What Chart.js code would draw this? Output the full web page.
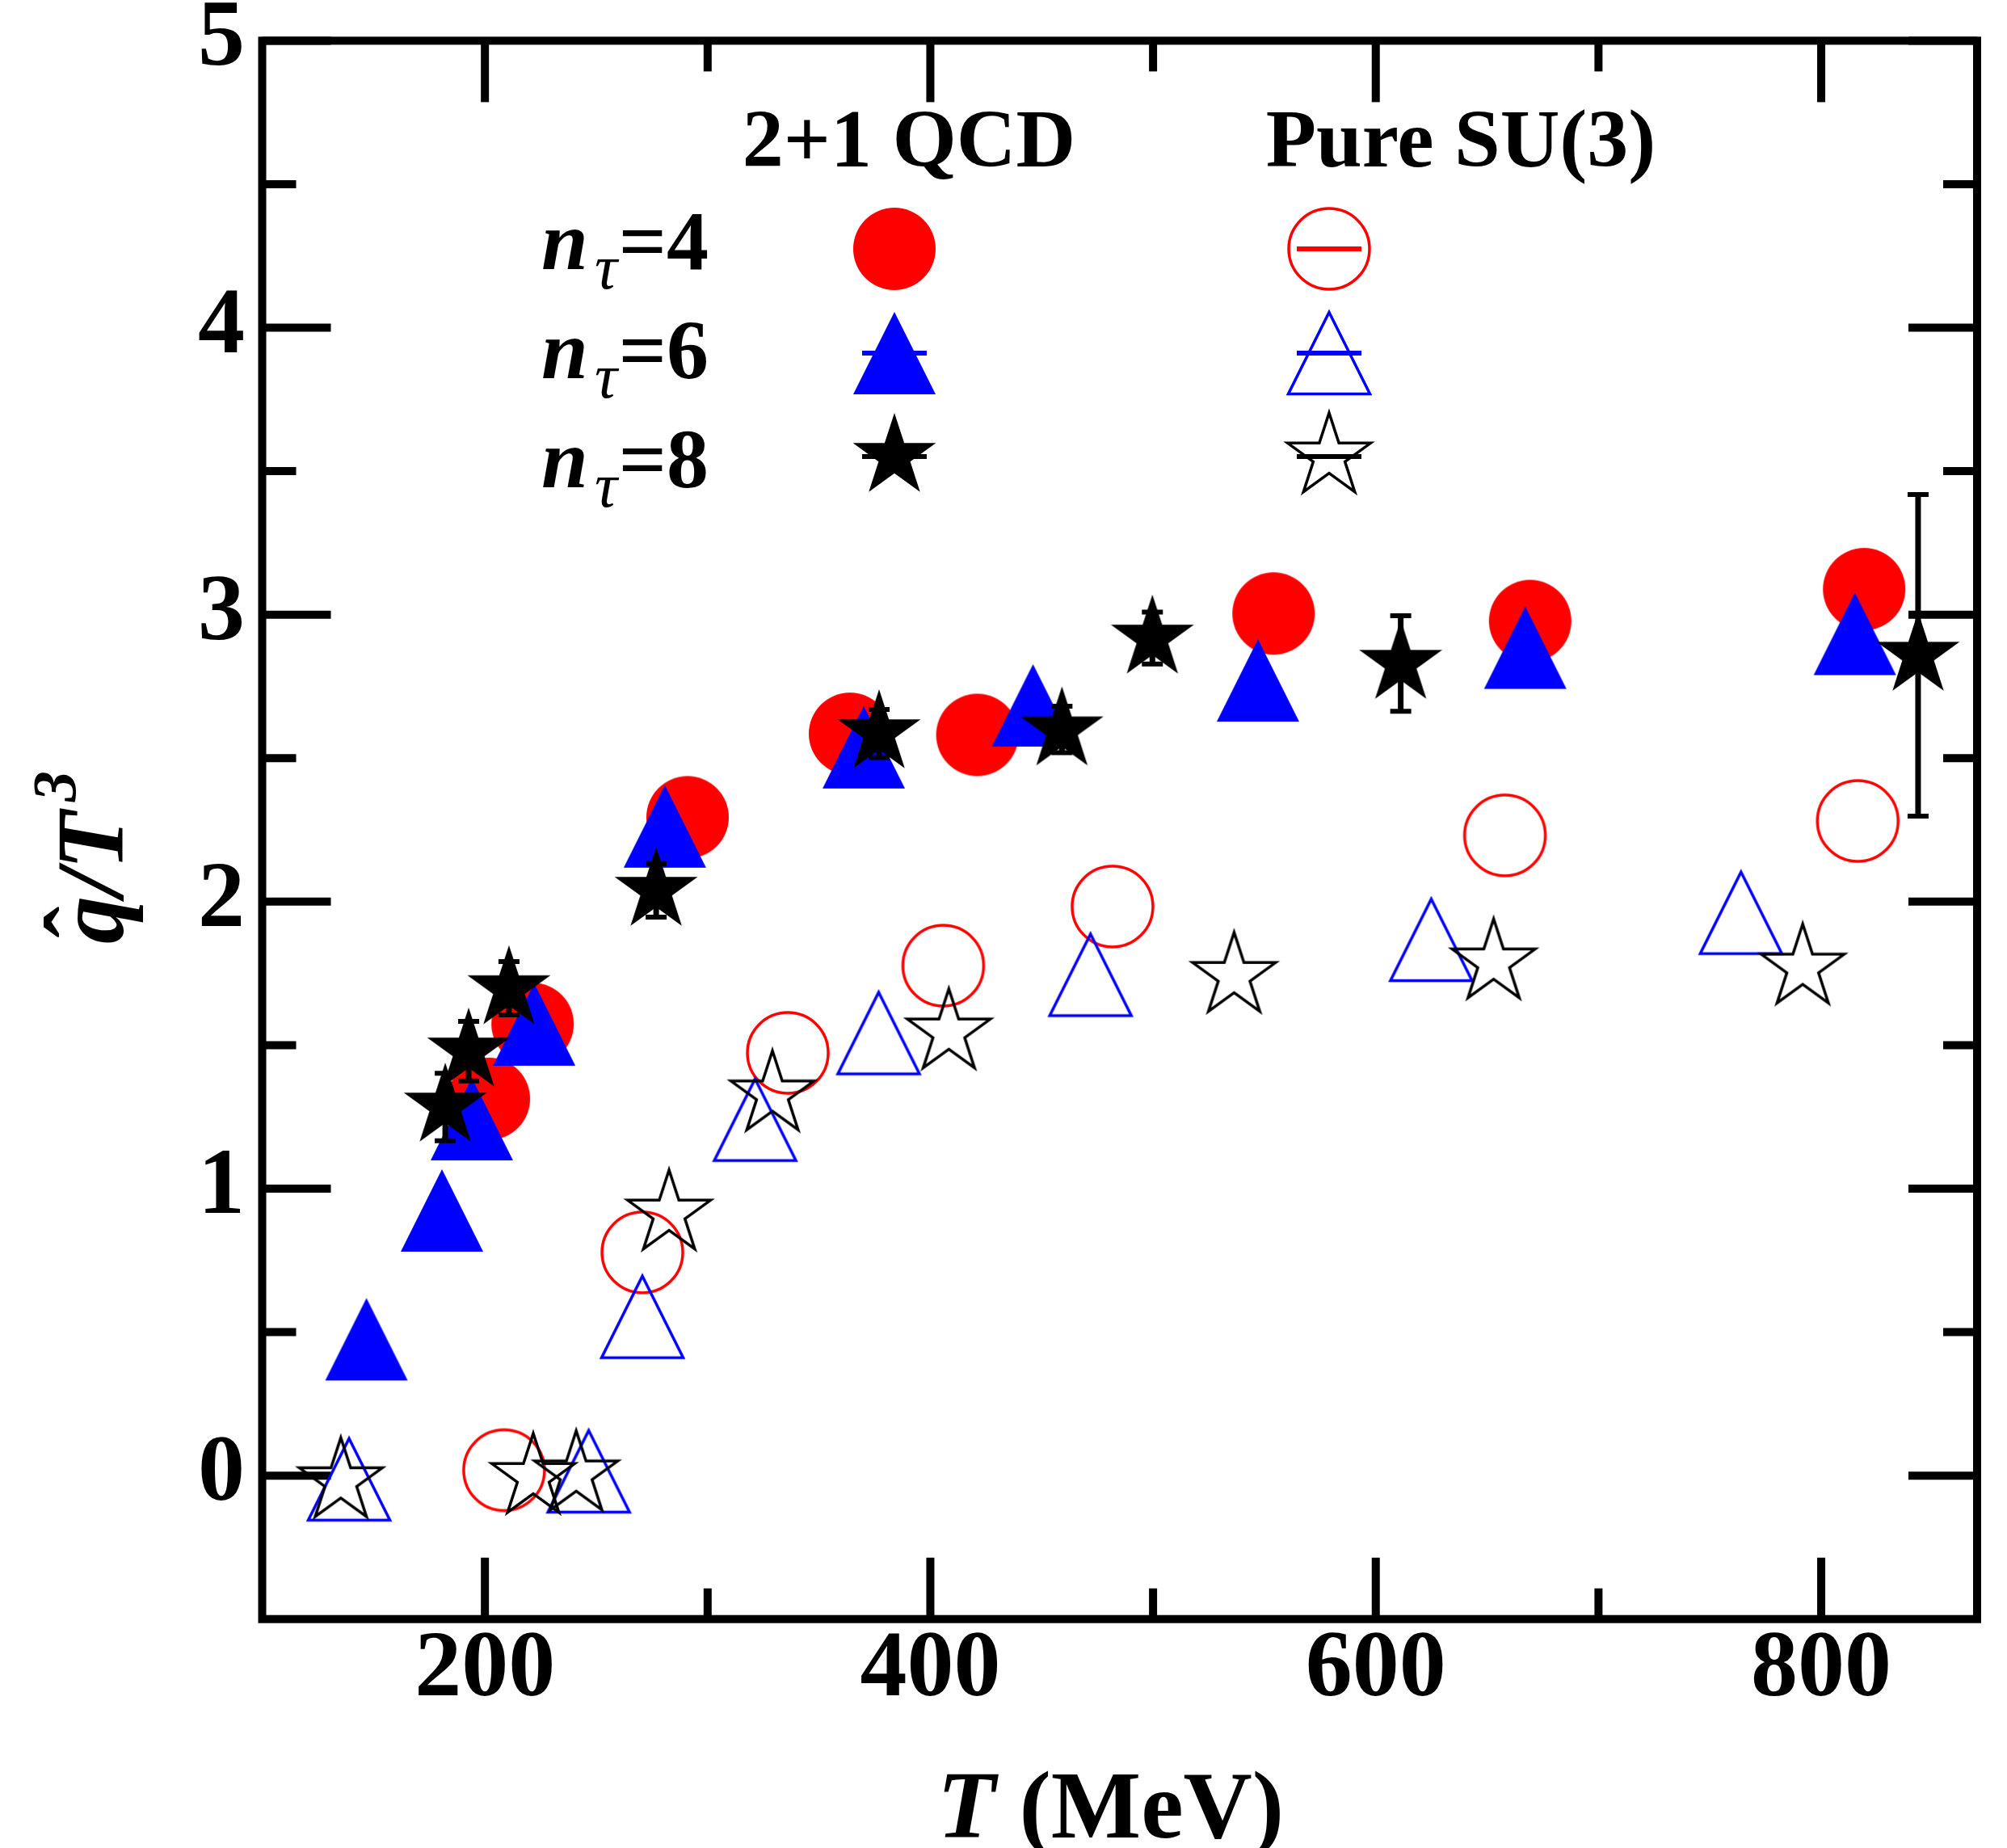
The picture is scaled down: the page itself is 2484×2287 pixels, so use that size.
<!DOCTYPE html>
<html>
<head>
<meta charset="utf-8">
<script src="https://cdn.jsdelivr.net/npm/chart.js@4/dist/chart.umd.min.js"></script>
<style>
  html, body { margin: 0; padding: 0; background: #fff; }
  canvas { display: block; }
</style>
</head>
<body>
<canvas id="chart" width="2484" height="2287"></canvas>
<script>
// Temperature T (MeV) and qhat/T^3 for each lattice setup

// 2+1 flavour QCD
const qcdT4 = [201.8, 221.4, 291.0, 363.9, 421.1, 554.1, 669.3, 819.3];
const qcdQ4 = [1.313, 1.574, 2.294, 2.585, 2.581, 3.004, 2.978, 3.089];

const qcdT6 = [146.8, 180.7, 194.1, 222.1, 280.8, 370.1, 446.1, 547.1, 667.1, 815.1];
const qcdQ6 = [0.475, 0.924, 1.242, 1.572, 2.262, 2.538, 2.684, 2.771, 2.885, 2.933];

const qcdT8   = [182.2, 192.7, 210.8, 276.9, 377.0, 459.1, 499.7, 611.2, 843.5];
const qcdQ8   = [1.287, 1.479, 1.696, 2.039, 2.588, 2.598, 2.918, 2.830, 2.858];
const qcdQ8Hi = [1.402, 1.583, 1.791, 2.131, 2.670, 2.681, 3.009, 2.996, 3.419];
const qcdQ8Lo = [1.167, 1.375, 1.605, 1.946, 2.502, 2.519, 2.828, 2.663, 2.298];

// Pure SU(3) gauge theory
const su3T4 = [208.6, 270.7, 336.0, 405.8, 481.8, 658.0, 816.4];
const su3Q4 = [0.019, 0.778, 1.473, 1.777, 1.983, 2.231, 2.281];

const su3T6 = [139.0, 246.6, 270.7, 321.3, 376.8, 471.9, 624.9, 764.0];
const su3Q6 = [-0.013, 0.015, 0.553, 1.240, 1.542, 1.745, 1.867, 1.961];

const su3T8 = [135.3, 221.7, 241.0, 282.7, 329.1, 408.3, 536.4, 652.9, 791.7];
const su3Q8 = [-0.020, -0.005, 0.004, 0.913, 1.328, 1.544, 1.741, 1.788, 1.770];

// Axis ticks
const xMajorTicks = [200, 400, 600, 800];
const xMinorTicks = [300, 500, 700];
const yMajorTicks = [0, 1, 2, 3, 4, 5];
const yMinorTicks = [0.5, 1.5, 2.5, 3.5, 4.5];

// Legend text
const groupLabels = ['2+1 QCD', 'Pure SU(3)'];
const ntauLabels = ['4', '6', '8'];

const RED = '#ff0000', BLUE = '#0000ff', BLACK = '#000000';
const SERIF = "'Liberation Serif', 'Times New Roman', serif";

// Symbol sprites used as point styles
function makeMarker(shape, filled, color) {
  const size = 124;
  const c = document.createElement('canvas');
  c.width = size; c.height = size;
  const g = c.getContext('2d');
  const m = size / 2;
  g.lineJoin = 'miter';
  g.beginPath();
  if (shape === 'circle') {
    g.arc(m, m, filled ? 51 : 50, 0, Math.PI * 2);
  } else if (shape === 'triangle') {
    const h = filled ? 51 : 50.5;
    g.moveTo(m, m - h); g.lineTo(m + h, m + h); g.lineTo(m - h, m + h); g.closePath();
  } else {
    const R = 54, r = R * 0.382;
    for (let i = 0; i < 10; i++) {
      const rad = i % 2 ? r : R;
      const a = -Math.PI / 2 + i * Math.PI / 5;
      const px = m + rad * Math.cos(a), py = m + rad * Math.sin(a);
      if (i) g.lineTo(px, py); else g.moveTo(px, py);
    }
    g.closePath();
  }
  if (filled) { g.fillStyle = color; g.fill(); }
  else { g.strokeStyle = color; g.lineWidth = 3.5; g.stroke(); }
  return c;
}

const sym = {
  circF: makeMarker('circle', true, RED),
  circO: makeMarker('circle', false, RED),
  triF: makeMarker('triangle', true, BLUE),
  triO: makeMarker('triangle', false, BLUE),
  starF: makeMarker('star', true, BLACK),
  starO: makeMarker('star', false, BLACK)
};

const pts = (xs, ys) => xs.map((x, i) => ({ x, y: ys[i] }));

function series(label, xs, ys, style, color) {
  return {
    label, data: pts(xs, ys), pointStyle: style,
    pointRadius: 50, pointHoverRadius: 50,
    borderColor: color, backgroundColor: color,
    showLine: false, clip: false
  };
}

// Inward ticks on all four sides plus the frame
const framePlugin = {
  id: 'frame',
  beforeDatasetsDraw(chart) {
    const { ctx, chartArea: a, scales: { x, y } } = chart;
    ctx.save();
    ctx.strokeStyle = '#000';
    ctx.lineCap = 'butt';
    ctx.lineWidth = 10;
    const seg = (x1, y1, x2, y2) => { ctx.beginPath(); ctx.moveTo(x1, y1); ctx.lineTo(x2, y2); ctx.stroke(); };
    const xt = (v, len) => { const p = x.getPixelForValue(v); seg(p, a.bottom, p, a.bottom - len); seg(p, a.top, p, a.top + len); };
    const yt = (v, len) => { const p = y.getPixelForValue(v); seg(a.left, p, a.left + len, p); seg(a.right, p, a.right - len, p); };
    xMajorTicks.forEach(v => xt(v, 76));
    xMinorTicks.forEach(v => xt(v, 38));
    yMajorTicks.forEach(v => yt(v, 85));
    yMinorTicks.forEach(v => yt(v, 42));
    ctx.lineJoin = 'miter';
    ctx.strokeRect(a.left, a.top, a.right - a.left, a.bottom - a.top);
    ctx.restore();
  }
};

// Error bars for the 2+1 QCD n_tau=8 points (dataset 0), drawn just under its stars
const errorBarPlugin = {
  id: 'errorBars',
  beforeDatasetDraw(chart, args) {
    if (args.index !== 0) return;
    const { ctx, scales: { x, y } } = chart;
    ctx.save();
    ctx.strokeStyle = '#000';
    ctx.lineCap = 'butt';
    qcdT8.forEach((t, i) => {
      const px = x.getPixelForValue(t);
      const hi = y.getPixelForValue(qcdQ8Hi[i]);
      const lo = y.getPixelForValue(qcdQ8Lo[i]);
      ctx.lineWidth = 7;
      ctx.beginPath(); ctx.moveTo(px, hi); ctx.lineTo(px, lo); ctx.stroke();
      ctx.lineWidth = 6;
      ctx.beginPath();
      ctx.moveTo(px - 13, hi); ctx.lineTo(px + 13, hi);
      ctx.moveTo(px - 13, lo); ctx.lineTo(px + 13, lo);
      ctx.stroke();
    });
    ctx.restore();
  }
};

// Axis titles and the two-column legend
const textPlugin = {
  id: 'texts',
  afterDraw(chart) {
    const ctx = chart.ctx;
    ctx.save();
    ctx.fillStyle = '#000';
    ctx.textBaseline = 'alphabetic';

    // x title: T (MeV)
    ctx.textAlign = 'left';
    ctx.font = `italic bold 118px ${SERIF}`;
    const tx = 1160, ty = 2274;
    ctx.fillText('T', tx, ty);
    const wT = ctx.measureText('T').width;
    ctx.font = `bold 118px ${SERIF}`;
    ctx.fillText(' (MeV)', tx + wT, ty);

    // y title: qhat / T^3, reading upward
    ctx.save();
    ctx.translate(152, 1168);
    ctx.rotate(-Math.PI / 2);
    ctx.font = `italic bold 118px ${SERIF}`;
    ctx.fillText('q', 0, 0);
    const wq = ctx.measureText('q').width;
    ctx.fillText('/T', wq, 0);
    const wsT = ctx.measureText('/T').width;
    ctx.font = `italic bold 76px ${SERIF}`;
    ctx.fillText('3', wq + wsT + 12, -59);
    ctx.font = `bold 118px ${SERIF}`;
    ctx.textAlign = 'center';
    ctx.fillText('\u02C6', 27, -14);
    ctx.restore();

    // legend column headers
    ctx.textAlign = 'center';
    ctx.font = `bold 102px ${SERIF}`;
    ctx.fillText(groupLabels[0], 1125, 206);
    ctx.fillText(groupLabels[1], 1808, 206);

    // legend rows
    const rowBase = [333, 468, 603];
    const rowMark = [308, 437, 565];
    const filled = [sym.circF, sym.triF, sym.starF];
    const open = [sym.circO, sym.triO, sym.starO];
    const cols = [RED, BLUE, BLACK];
    ntauLabels.forEach((n, i) => {
      const b = rowBase[i];
      ctx.textAlign = 'left';
      ctx.font = `italic bold 104px ${SERIF}`;
      ctx.fillText('n', 670, b);
      ctx.font = `italic 78px ${SERIF}`;
      ctx.fillText('\u03C4', 736, b + 24);
      ctx.font = `bold 104px ${SERIF}`;
      ctx.textAlign = 'right';
      ctx.fillText('=' + n, 877, b);

      const y0 = rowMark[i];
      [[1107, filled[i]], [1645, open[i]]].forEach(([cx, img]) => {
        ctx.strokeStyle = cols[i];
        ctx.lineWidth = 6;
        ctx.beginPath(); ctx.moveTo(cx - 40, y0); ctx.lineTo(cx + 40, y0); ctx.stroke();
        ctx.drawImage(img, cx - img.width / 2, y0 - img.height / 2);
      });
    });
    ctx.restore();
  }
};

const tickFont = { family: SERIF, size: 116, weight: 'bold', lineHeight: 1 };

new Chart(document.getElementById('chart'), {
  type: 'scatter',
  data: {
    datasets: [
      series('2+1 QCD, n\u03C4=8', qcdT8, qcdQ8, sym.starF, BLACK),
      series('2+1 QCD, n\u03C4=6', qcdT6, qcdQ6, sym.triF, BLUE),
      series('2+1 QCD, n\u03C4=4', qcdT4, qcdQ4, sym.circF, RED),
      series('Pure SU(3), n\u03C4=8', su3T8, su3Q8, sym.starO, BLACK),
      series('Pure SU(3), n\u03C4=6', su3T6, su3Q6, sym.triO, BLUE),
      series('Pure SU(3), n\u03C4=4', su3T4, su3Q4, sym.circO, RED)
    ]
  },
  options: {
    responsive: false,
    devicePixelRatio: 1,
    animation: false,
    events: [],
    layout: { autoPadding: false, padding: { top: 50.4, right: 37, left: 0, bottom: 0 } },
    plugins: { legend: { display: false }, tooltip: { enabled: false }, title: { display: false } },
    scales: {
      x: {
        type: 'linear', position: 'bottom', min: 100, max: 870,
        grid: { display: false, drawTicks: false },
        border: { display: false },
        afterBuildTicks: s => { s.ticks = xMajorTicks.map(v => ({ value: v })); },
        afterFit: s => { s.height = 283.3; s.paddingLeft = 0; s.paddingRight = 0; },
        ticks: { font: tickFont, color: '#000', padding: 6, maxRotation: 0, autoSkip: false }
      },
      y: {
        type: 'linear', position: 'left', min: -0.5, max: 5,
        grid: { display: false, drawTicks: false },
        border: { display: false },
        afterBuildTicks: s => { s.ticks = yMajorTicks.map(v => ({ value: v })); },
        afterFit: s => { s.width = 324.5; s.paddingTop = 0; s.paddingBottom = 0; },
        ticks: { font: tickFont, color: '#000', padding: 21.5, autoSkip: false }
      }
    }
  },
  plugins: [framePlugin, errorBarPlugin, textPlugin]
});
</script>
</body>
</html>
